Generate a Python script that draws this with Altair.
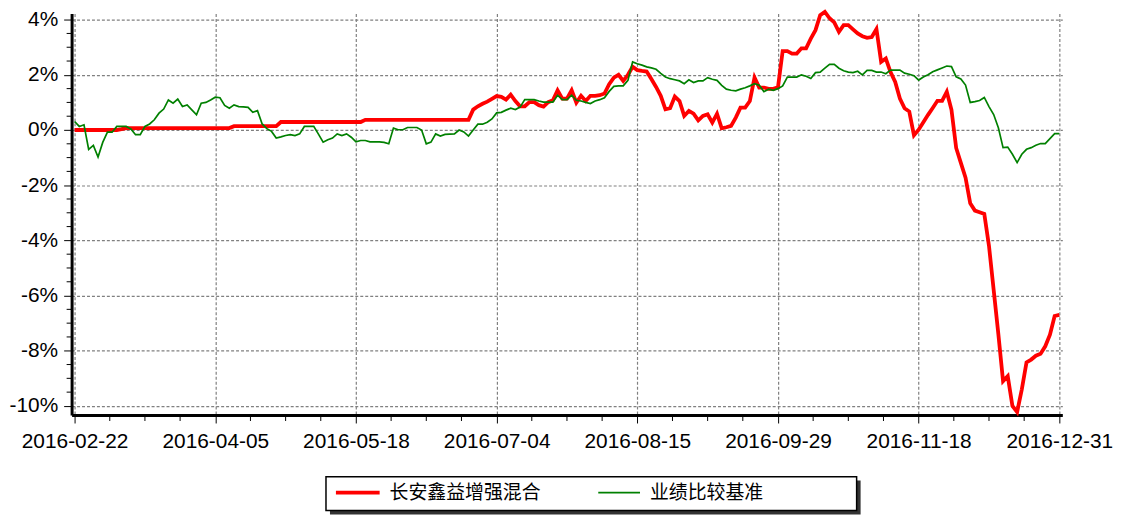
import altair as alt
import pandas as pd

fund_name = "长安鑫益增强混合"
bench_name = "业绩比较基准"

tick_labels = ["2016-02-22", "2016-04-05", "2016-05-18", "2016-07-04",
               "2016-08-15", "2016-09-29", "2016-11-18", "2016-12-31"]
x_ticks = [0, 30, 60, 90, 120, 150, 180, 210]
y_ticks = [-10, -8, -6, -4, -2, 0, 2, 4]

fund = [
    0.00, 0.00, 0.00, 0.00, 0.00, 0.00, 0.00, 0.00, 0.00, 0.00,
    0.03, 0.07, 0.07, 0.07, 0.07, 0.07, 0.07, 0.07, 0.07, 0.07,
    0.07, 0.07, 0.07, 0.07, 0.07, 0.07, 0.07, 0.07, 0.07, 0.07,
    0.07, 0.07, 0.07, 0.07, 0.14, 0.14, 0.14, 0.14, 0.14, 0.14,
    0.14, 0.14, 0.14, 0.14, 0.29, 0.29, 0.29, 0.29, 0.29, 0.29,
    0.29, 0.29, 0.29, 0.29, 0.29, 0.29, 0.29, 0.29, 0.29, 0.29,
    0.29, 0.29, 0.37, 0.37, 0.37, 0.37, 0.37, 0.37, 0.37, 0.37,
    0.37, 0.37, 0.37, 0.37, 0.37, 0.37, 0.37, 0.37, 0.37, 0.37,
    0.37, 0.37, 0.37, 0.37, 0.37, 0.74, 0.86, 0.95, 1.03, 1.13,
    1.23, 1.20, 1.10, 1.28, 1.05, 0.86, 0.86, 1.01, 1.01, 0.90,
    0.85, 1.01, 1.08, 1.44, 1.14, 1.14, 1.44, 0.99, 1.24, 1.05,
    1.24, 1.24, 1.26, 1.32, 1.66, 1.90, 2.00, 1.78, 2.00, 2.29,
    2.17, 2.14, 2.12, 1.85, 1.56, 1.24, 0.75, 0.79, 1.21, 1.05,
    0.51, 0.69, 0.59, 0.35, 0.51, 0.57, 0.27, 0.59, 0.06, 0.10,
    0.15, 0.45, 0.81, 0.81, 1.05, 1.90, 1.54, 1.54, 1.49, 1.49,
    1.55, 2.86, 2.86, 2.77, 2.77, 2.96, 2.96, 3.31, 3.62, 4.16,
    4.28, 4.05, 3.90, 3.56, 3.80, 3.80, 3.65, 3.50, 3.40, 3.34,
    3.37, 3.66, 2.47, 2.59, 2.10, 1.74, 1.14, 0.79, 0.67, -0.19,
    0.01, 0.28, 0.55, 0.80, 1.06, 1.06, 1.39, 0.73, -0.65, -1.19,
    -1.73, -2.66, -2.92, -2.98, -3.04, -4.20, -5.80, -7.40, -9.10, -8.92,
    -10.00, -10.22, -9.40, -8.42, -8.32, -8.18, -8.11, -7.84, -7.42, -6.74,
    -6.70,
]

bench = [
    0.31, 0.13, 0.19, -0.70, -0.56, -0.98, -0.45, -0.08, -0.08, 0.13,
    0.13, 0.13, 0.04, -0.17, -0.17, 0.13, 0.22, 0.37, 0.61, 0.76,
    1.09, 0.97, 1.12, 0.85, 0.91, 0.73, 0.55, 0.97, 1.00, 1.09,
    1.19, 1.17, 0.89, 0.79, 0.91, 0.85, 0.84, 0.82, 0.64, 0.70,
    0.22, 0.05, -0.05, -0.29, -0.25, -0.20, -0.17, -0.20, -0.14, 0.13,
    0.13, 0.13, -0.15, -0.44, -0.35, -0.29, -0.14, -0.20, -0.14, -0.26,
    -0.43, -0.38, -0.38, -0.43, -0.43, -0.43, -0.45, -0.50, 0.07, 0.01,
    0.01, 0.09, 0.09, 0.09, 0.00, -0.50, -0.44, -0.14, -0.22, -0.16,
    -0.15, -0.14, 0.00, -0.07, -0.22, 0.00, 0.21, 0.21, 0.28, 0.40,
    0.62, 0.64, 0.72, 0.79, 0.74, 0.83, 1.10, 1.10, 1.10, 1.05,
    1.01, 1.01, 1.01, 1.26, 1.10, 1.10, 1.26, 1.08, 1.05, 1.00,
    0.96, 1.05, 1.10, 1.17, 1.40, 1.58, 1.60, 1.60, 1.80, 2.47,
    2.40, 2.35, 2.29, 2.25, 2.20, 2.05, 1.92, 1.86, 1.82, 1.78,
    1.68, 1.82, 1.72, 1.78, 1.78, 1.90, 1.84, 1.80, 1.62, 1.48,
    1.44, 1.42, 1.48, 1.53, 1.60, 1.68, 1.62, 1.39, 1.48, 1.44,
    1.50, 1.60, 1.92, 1.92, 1.92, 2.00, 1.95, 1.87, 2.08, 2.10,
    2.24, 2.38, 2.38, 2.24, 2.15, 2.10, 2.08, 2.13, 2.00, 2.16,
    2.16, 2.10, 2.10, 2.04, 2.17, 2.17, 2.17, 2.06, 2.02, 1.97,
    1.81, 1.92, 2.00, 2.11, 2.18, 2.25, 2.32, 2.30, 1.93, 1.85,
    1.63, 1.00, 1.03, 1.07, 1.18, 0.85, 0.56, 0.08, -0.64, -0.62,
    -0.88, -1.18, -0.88, -0.70, -0.64, -0.55, -0.49, -0.49, -0.31, -0.13,
    -0.13,
]

assert len(fund) == 211 and len(bench) == 211

df = pd.DataFrame({"idx": list(range(len(fund))), "fund": fund, "bench": bench})

x_minor = [t + k * 7.5 for t in x_ticks[:-1] for k in (1, 2, 3)]
y_minor = [t + k * 0.5 for t in y_ticks[:-1] for k in (1, 2, 3)]

W, H = 997, 404
xs = alt.Scale(domain=[-0.64, 210.64], nice=False, zero=False)
ys = alt.Scale(domain=[-10.33, 4.22], nice=False, zero=False)

label_arr = "[" + ",".join("'%s'" % s for s in tick_labels) + "]"
x_axis = alt.Axis(values=x_ticks, labelExpr=label_arr + "[round(datum.value / 30)]",
                  title=None, grid=True, labelPadding=8, labelOverlap=False,
                  labelFlush=False)
y_axis = alt.Axis(values=y_ticks, labelExpr="datum.value + '%'", title=None,
                  grid=True, labelPadding=6)

X = alt.X("idx:Q", scale=xs, axis=x_axis)

minor_x = alt.Chart(pd.DataFrame({"idx": x_minor})).mark_rule(
    color="black", strokeWidth=1).encode(x=X, y=alt.value(H), y2=alt.value(H + 6))
minor_y = alt.Chart(pd.DataFrame({"v": y_minor})).mark_rule(
    color="black", strokeWidth=1).encode(
    y=alt.Y("v:Q", scale=ys, axis=y_axis), x=alt.value(-5), x2=alt.value(0))

fund_line = alt.Chart(df).mark_line(color="#FF0000", strokeWidth=3.8).encode(
    x=X, y=alt.Y("fund:Q", scale=ys, axis=y_axis))
bench_line = alt.Chart(df).mark_line(color="#008000", strokeWidth=1.7).encode(
    x=X, y=alt.Y("bench:Q", scale=ys, axis=y_axis))

# legend box (drawn below the plot)
lg = alt.Chart(pd.DataFrame({"name": [fund_name]}))
shadow = lg.mark_rect(color="#333333").encode(
    x=alt.value(260), x2=alt.value(794), y=alt.value(470), y2=alt.value(504))
box = lg.mark_rect(fill="white", stroke="black", strokeWidth=1.5).encode(
    x=alt.value(256), x2=alt.value(790), y=alt.value(466), y2=alt.value(500))
sw1 = lg.mark_rule(color="#FF0000", strokeWidth=3.8).encode(
    x=alt.value(266), x2=alt.value(310), y=alt.value(482))
t1 = alt.Chart(pd.DataFrame({"name": [fund_name]})).mark_text(
    align="left", baseline="middle", fontSize=19, font="Noto Sans CJK SC",
    color="black").encode(x=alt.value(320), y=alt.value(482), text="name:N")
sw2 = lg.mark_rule(color="#008000", strokeWidth=1.7).encode(
    x=alt.value(530), x2=alt.value(572), y=alt.value(482))
t2 = alt.Chart(pd.DataFrame({"name": [bench_name]})).mark_text(
    align="left", baseline="middle", fontSize=19, font="Noto Sans CJK SC",
    color="black").encode(x=alt.value(582), y=alt.value(482), text="name:N")

chart = alt.layer(
    minor_x, minor_y, fund_line, bench_line, shadow, box, sw1, t1, sw2, t2
).properties(
    width=W, height=H,
    autosize=alt.AutoSizeParams(type="none"),
    padding={"left": 64, "top": 4, "right": 52, "bottom": 101},
).configure_view(stroke=None).configure_axis(
    labelFont="Liberation Sans", labelFontSize=21, labelColor="black",
    tickColor="black", tickSize=8, tickWidth=1,
    domainColor="black", domainWidth=3,
    gridColor="#808080", gridDash=[3, 2], gridWidth=1.2,
)

chart.save("out.html", embed_options={"renderer": "svg", "actions": False})
